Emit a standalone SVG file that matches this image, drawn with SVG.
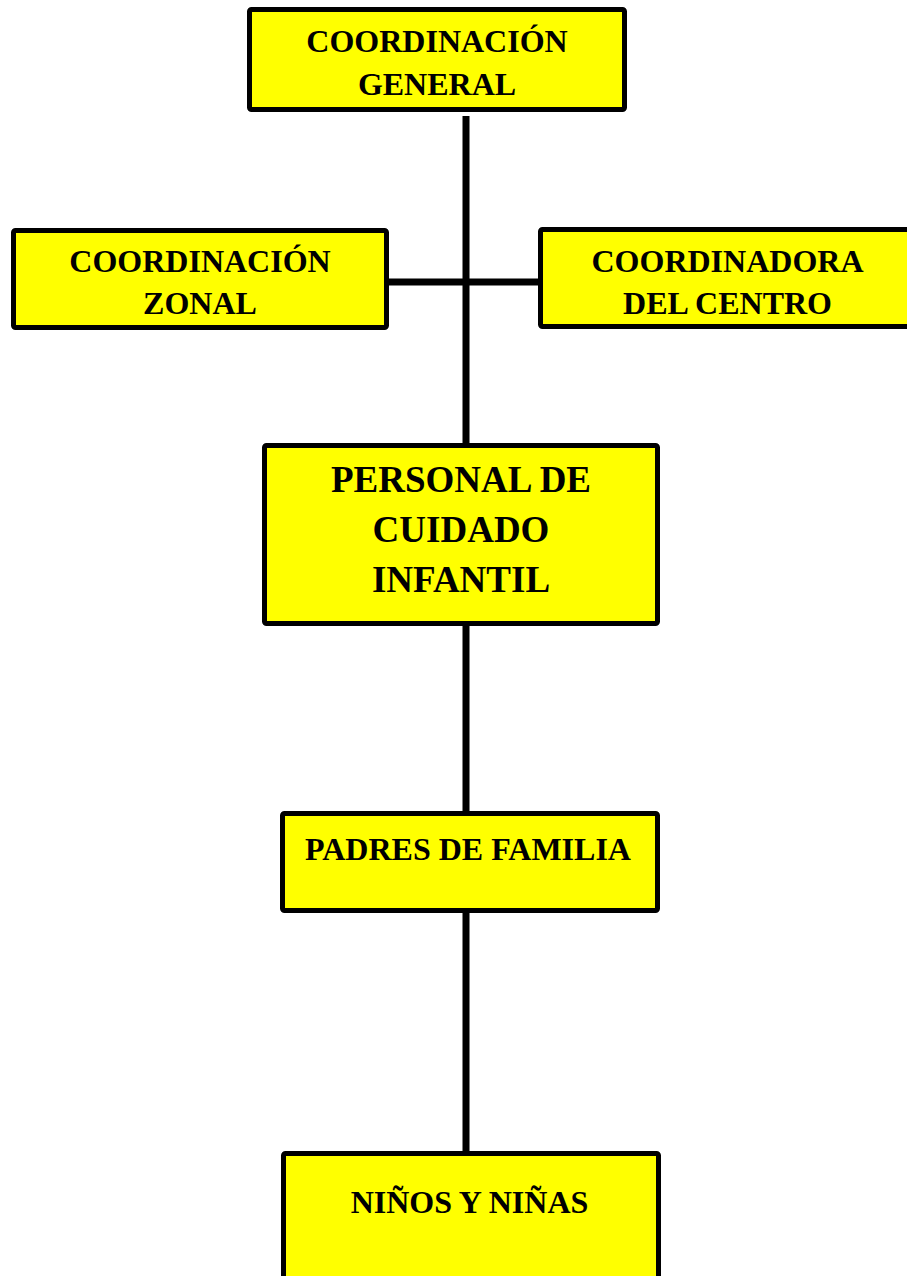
<svg xmlns="http://www.w3.org/2000/svg" width="907" height="1276" viewBox="0 0 907 1276">
<style>
.box{fill:#FFFF00;stroke:#000;stroke-width:5;}
.t{font-family:"Liberation Serif","Times New Roman",serif;font-weight:bold;fill:#000;text-anchor:middle;font-size:32px;}
.big{font-size:37px;}
.conn{stroke:#000;stroke-width:7;fill:none;}
</style>
<rect width="907" height="1276" fill="#fff"/>
<g id="connectors">
<line class="conn" x1="466" y1="116" x2="466" y2="445"/>
<line class="conn" x1="387" y1="282" x2="541" y2="282"/>
<line class="conn" x1="466" y1="622" x2="466" y2="813"/>
<line class="conn" x1="466" y1="911" x2="466" y2="1153"/>
</g>
<g id="coordinacion-general">
<rect class="box" x="249.5" y="9.5" width="375" height="100" rx="2"/>
<text class="t" x="437" y="52">COORDINACIÓN</text>
<text class="t" x="437" y="95">GENERAL</text>
</g>
<g id="coordinacion-zonal">
<rect class="box" x="13.5" y="230.5" width="373" height="97" rx="2"/>
<text class="t" x="200" y="272">COORDINACIÓN</text>
<text class="t" x="200" y="314">ZONAL</text>
</g>
<g id="coordinadora-centro">
<rect class="box" x="540.5" y="229.5" width="380" height="97" rx="2"/>
<text class="t" x="727.5" y="272">COORDINADORA</text>
<text class="t" x="727.5" y="314">DEL CENTRO</text>
</g>
<g id="personal-cuidado">
<rect class="box" x="264.5" y="445.5" width="393" height="178" rx="2"/>
<text class="t big" x="461" y="492">PERSONAL DE</text>
<text class="t big" x="461" y="542">CUIDADO</text>
<text class="t big" x="461" y="592">INFANTIL</text>
</g>
<g id="padres-familia">
<rect class="box" x="282.5" y="813.5" width="375" height="97" rx="2"/>
<text class="t" x="468" y="860">PADRES DE FAMILIA</text>
</g>
<g id="ninos-ninas">
<rect class="box" x="283.5" y="1153.5" width="375" height="140" rx="2"/>
<text class="t" x="469.5" y="1213">NIÑOS Y NIÑAS</text>
</g>
</svg>
